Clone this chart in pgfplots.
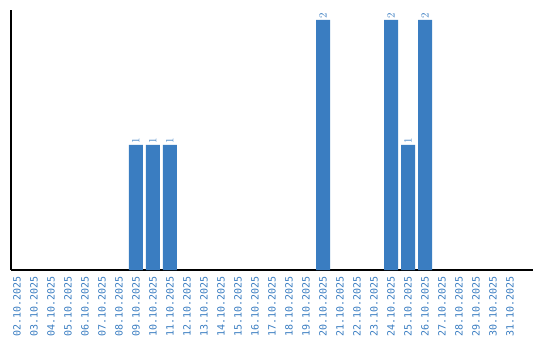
\documentclass[border=0pt]{standalone}
\usepackage{pgfplots}
\pgfplotsset{compat=1.18}
\usepackage{fontspec}
\setmainfont{DejaVu Sans}
\newfontfamily\labfont{DejaVu Sans Mono}
\definecolor{barblue}{RGB}{58,125,193}
\begin{document}
\begin{tikzpicture}
\path[use as bounding box] (-11bp,-70bp) rectangle (529bp,270bp);
\begin{axis}[
  at={(0,0)}, anchor=south west,
  scale only axis, width=522bp, height=260bp,
  xmin=-0.35, xmax=30.35, ymin=0, ymax=2.08,
  axis x line*=bottom, axis y line*=left,
  axis line style={black, line width=1.2pt, -},
  ytick=\empty,
  xtick={0,...,29},
  xticklabels={02.10.2025,03.10.2025,04.10.2025,05.10.2025,06.10.2025,07.10.2025,08.10.2025,09.10.2025,10.10.2025,11.10.2025,12.10.2025,13.10.2025,14.10.2025,15.10.2025,16.10.2025,17.10.2025,18.10.2025,19.10.2025,20.10.2025,21.10.2025,22.10.2025,23.10.2025,24.10.2025,25.10.2025,26.10.2025,27.10.2025,28.10.2025,29.10.2025,30.10.2025,31.10.2025},
  major tick length=0pt,
  xticklabel style={rotate=90, anchor=east, font=\labfont\fontsize{10bp}{10bp}\selectfont, text=barblue, inner xsep=6.5bp, inner ysep=0pt},
  ybar, bar width=14bp,
  nodes near coords,
  nodes near coords style={rotate=90, anchor=west, font=\labfont\fontsize{11bp}{11bp}\selectfont, text=barblue, inner xsep=1.6bp, inner ysep=0pt},
]
\addplot[fill=barblue, draw=none] coordinates {(7,1) (8,1) (9,1) (18,2) (22,2) (23,1) (24,2)};
\end{axis}
\end{tikzpicture}
\end{document}
